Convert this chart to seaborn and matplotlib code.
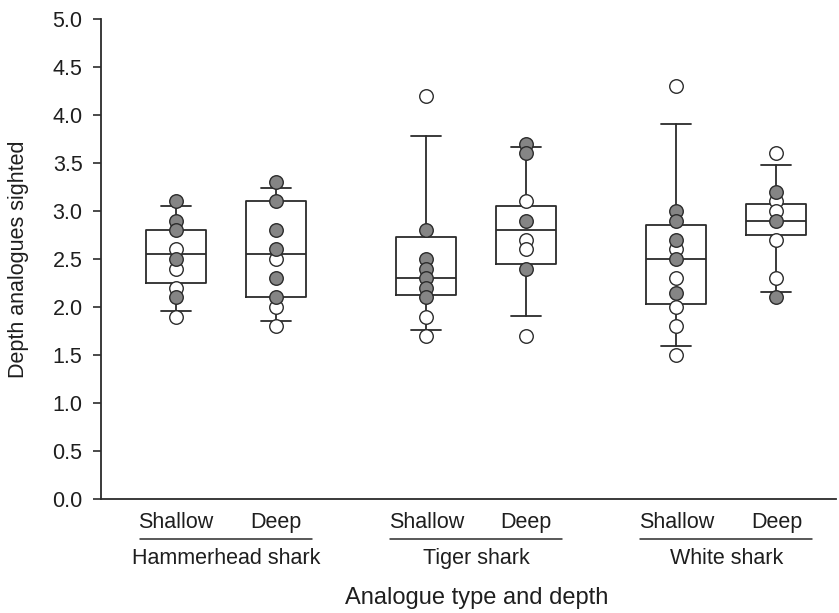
import numpy as np
import pandas as pd
import matplotlib
matplotlib.use("Agg")
import matplotlib.pyplot as plt
import matplotlib.transforms as mtransforms
import seaborn as sns

# ---- data ----
species = ["Hammerhead shark", "Tiger shark", "White shark"]
depths = ["Shallow", "Deep"]
positions = [1.0, 2.0, 3.5, 4.5, 6.0, 7.0]

hh_shallow = [3.1, 2.9, 2.8, 2.6, 2.5, 2.4, 2.2, 2.1, 1.9]
hh_shallow_filled = [1, 1, 1, 0, 1, 0, 0, 1, 0]
hh_deep = [3.3, 3.1, 2.8, 2.6, 2.5, 2.3, 2.1, 2.0, 1.8]
hh_deep_filled = [1, 1, 1, 1, 0, 1, 1, 0, 0]
tg_shallow = [4.2, 2.8, 2.5, 2.4, 2.3, 2.2, 2.1, 1.9, 1.7]
tg_shallow_filled = [0, 1, 1, 1, 1, 1, 1, 0, 0]
tg_deep = [3.7, 3.6, 3.1, 2.9, 2.7, 2.6, 2.4, 1.7]
tg_deep_filled = [1, 1, 0, 1, 0, 0, 1, 0]
wh_shallow = [4.3, 3.0, 2.9, 2.7, 2.6, 2.5, 2.3, 2.15, 2.0, 1.8, 1.5]
wh_shallow_filled = [0, 1, 1, 1, 0, 1, 0, 1, 0, 0, 0]
wh_deep = [3.6, 3.2, 3.1, 3.0, 2.9, 2.7, 2.3, 2.1]
wh_deep_filled = [0, 1, 0, 0, 1, 0, 0, 1]

# box statistics (SigmaPlot style: 10th/90th percentile whiskers)
box_q1 = [2.25, 2.10, 2.13, 2.45, 2.03, 2.75]
box_median = [2.55, 2.55, 2.30, 2.80, 2.50, 2.90]
box_q3 = [2.80, 3.10, 2.73, 3.05, 2.85, 3.07]
whisker_low = [1.96, 1.85, 1.76, 1.91, 1.59, 2.16]
whisker_high = [3.05, 3.24, 3.78, 3.67, 3.91, 3.48]

yticks = [0.0, 0.5, 1.0, 1.5, 2.0, 2.5, 3.0, 3.5, 4.0, 4.5, 5.0]

# ---- build a long table ----
groups = [(hh_shallow, hh_shallow_filled), (hh_deep, hh_deep_filled),
          (tg_shallow, tg_shallow_filled), (tg_deep, tg_deep_filled),
          (wh_shallow, wh_shallow_filled), (wh_deep, wh_deep_filled)]
rows = []
for pos, (vals, filled) in zip(positions, groups):
    for v, f in zip(vals, filled):
        rows.append({"x": pos, "y": v, "filled": f})
df = pd.DataFrame(rows)

# ---- figure ----
sns.set_style("ticks")
plt.rcParams["font.family"] = ["Liberation Sans", "DejaVu Sans"]
ink = "#2b2b2b"
txt = "#1e1e1e"

fig = plt.figure(figsize=(8.39, 6.13), dpi=100)
ax = fig.add_axes([0.12, 0.186, 0.877, 0.783])

stats = []
for i in range(len(positions)):
    stats.append({"q1": box_q1[i], "med": box_median[i], "q3": box_q3[i],
                  "whislo": whisker_low[i], "whishi": whisker_high[i],
                  "fliers": []})
line_kw = dict(color=ink, linewidth=1.3)
ax.bxp(stats, positions=positions, widths=0.6, showfliers=False,
       boxprops=line_kw, medianprops=line_kw, whiskerprops=line_kw,
       capprops=line_kw, capwidths=0.3, manage_ticks=False, zorder=2)

sns.scatterplot(data=df[df.filled == 0], x="x", y="y", ax=ax, color="white",
                edgecolor=ink, linewidth=1.0, s=95, zorder=3, legend=False)
sns.scatterplot(data=df[df.filled == 1], x="x", y="y", ax=ax, color="#858585",
                edgecolor=ink, linewidth=1.0, s=95, zorder=4, legend=False)

ax.set_xlim(0.247, 7.6)
ax.set_ylim(0, 5)
ax.set_yticks(yticks)
ax.set_yticklabels([f"{t:.1f}" for t in yticks], fontsize=15.5, color=txt)
ax.set_xticks([])
ax.set_xlabel("")
ax.set_ylabel("Depth analogues sighted", fontsize=15.5, color=txt, labelpad=17)
ax.tick_params(axis="y", direction="out", length=6, width=1.2, color=ink, pad=7)
for side in ["top", "right"]:
    ax.spines[side].set_visible(False)
for side in ["left", "bottom"]:
    ax.spines[side].set_color(ink)
    ax.spines[side].set_linewidth(1.3)

trans = mtransforms.blended_transform_factory(ax.transData, ax.transAxes)
centers = [(positions[0] + positions[1]) / 2, (positions[2] + positions[3]) / 2,
           (positions[4] + positions[5]) / 2]
for k, c in enumerate(centers):
    ax.text(positions[2 * k], -0.05, depths[0], transform=trans, ha="center",
            va="center", fontsize=15.5, color=txt)
    ax.text(positions[2 * k + 1], -0.05, depths[1], transform=trans, ha="center",
            va="center", fontsize=15.5, color=txt)
    ax.plot([c - 0.86, c + 0.86], [-0.084, -0.084], transform=trans,
            color=ink, linewidth=1.1, clip_on=False)
    ax.text(c, -0.123, species[k], transform=trans, ha="center", va="center",
            fontsize=15.5, color=txt)

ax.text(4.0, -0.206, "Analogue type and depth", transform=trans, ha="center",
        va="center", fontsize=17, color=txt)

fig.savefig("out.png", dpi=100)
